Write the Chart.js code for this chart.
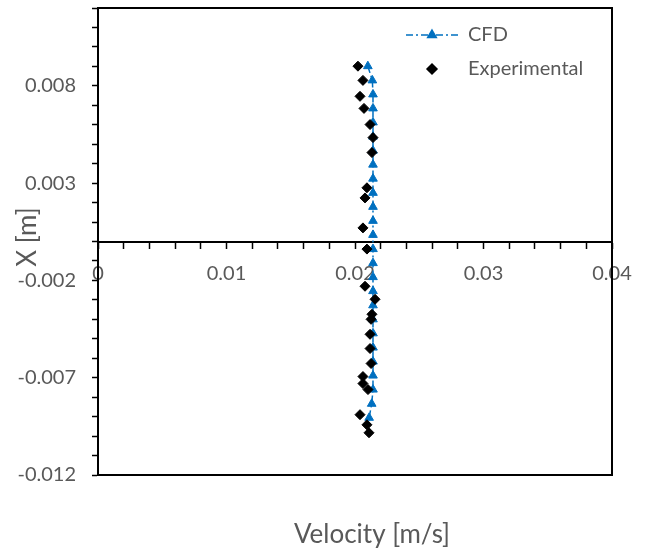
<!DOCTYPE html>
<html>
<head>
<meta charset="utf-8">
<script src="https://cdn.jsdelivr.net/npm/chart.js@4/dist/chart.umd.min.js"></script>
<style>
  html, body { margin: 0; padding: 0; background: #fff; }
  #wrap { width: 652px; height: 551px; }
</style>
</head>
<body>
<div id="wrap"><canvas id="chart"></canvas></div>
<script>
// ---------- Data ----------
// CFD profile: velocity [m/s] vs position X [m]
const cfdVelocity = [0.0210, 0.02135, 0.0214, 0.0214, 0.0214, 0.0214, 0.0214, 0.0214, 0.0214,
                     0.0214, 0.0214, 0.0214, 0.0214, 0.0214, 0.0214, 0.0214, 0.0214, 0.0214,
                     0.0214, 0.0214, 0.0214, 0.0214, 0.0214, 0.0214, 0.0213, 0.0211];
const cfdX = [0.00901, 0.00828, 0.00756, 0.00684, 0.00612, 0.00539, 0.00467, 0.00395, 0.00323,
              0.00250, 0.00178, 0.00106, 0.00034, -0.00039, -0.00111, -0.00183, -0.00255, -0.00328,
              -0.00400, -0.00472, -0.00545, -0.00617, -0.00689, -0.00761, -0.00834, -0.00906];

// Experimental points
const expVelocity = [0.02023, 0.02062, 0.02039, 0.02070, 0.02117, 0.02140, 0.02132, 0.02093,
                     0.02078, 0.02062, 0.02093, 0.02078, 0.02156, 0.02132, 0.02125, 0.02117,
                     0.02117, 0.02125, 0.02062, 0.02062, 0.02101, 0.02039, 0.02093, 0.02109];
const expX = [0.00901, 0.00828, 0.00746, 0.00684, 0.00601, 0.00534, 0.00457, 0.00276,
              0.00224, 0.00070, -0.00039, -0.00230, -0.00297, -0.00374, -0.00400, -0.00477,
              -0.00550, -0.00627, -0.00694, -0.00730, -0.00761, -0.00890, -0.00942, -0.00983];

// Axis ranges (major / minor steps)
const xRange = { min: 0, max: 0.04, major: 0.01, minor: 0.002 };
const yRange = { min: -0.012, max: 0.012, major: 0.005, minor: 0.001 };

const seriesNames = ['CFD', 'Experimental'];
const axisTitles = { x: 'Velocity [m/s]', y: 'X [m]' };

// ---------- Helpers ----------
const FONT = 'Lato';
const GREY = '#595959';
const BLUE = '#0070C0';
const toPoints = (xs, ys) => xs.map((v, i) => ({ x: v, y: ys[i] }));

// ---------- Plugins: frame, axis titles, in-plot legend ----------
const framePlugin = {
  id: 'frame',
  afterDatasetsDraw(chart) {
    const { ctx, chartArea: a } = chart;
    ctx.save();
    ctx.strokeStyle = '#000';
    ctx.lineWidth = 2;
    ctx.strokeRect(a.left, a.top, a.right - a.left, a.bottom - a.top);
    ctx.restore();
  },
};

const titlesPlugin = {
  id: 'titles',
  afterDraw(chart) {
    const { ctx } = chart;
    ctx.save();
    ctx.fillStyle = GREY;
    ctx.font = `26px ${FONT}`;
    ctx.textAlign = 'center';
    ctx.textBaseline = 'middle';
    ctx.fillText(axisTitles.x, 372, 535);
    ctx.translate(28, 237);
    ctx.rotate(-Math.PI / 2);
    ctx.fillText(axisTitles.y, 0, 0);
    ctx.restore();
  },
};

const legendPlugin = {
  id: 'insideLegend',
  afterDraw(chart) {
    const { ctx, chartArea: a } = chart;
    const x0 = a.right - 206, x1 = a.right - 154, mx = (x0 + x1) / 2;
    const tx = a.right - 144;
    const rows = [a.top + 27, a.top + 61];
    const sets = chart.data.datasets;
    ctx.save();
    // CFD: dash-dot line with triangle
    ctx.strokeStyle = BLUE;
    ctx.lineWidth = 1.5;
    ctx.setLineDash(sets[0].borderDash);
    ctx.beginPath();
    ctx.moveTo(x0, rows[0]);
    ctx.lineTo(x1, rows[0]);
    ctx.stroke();
    ctx.setLineDash([]);
    ctx.fillStyle = BLUE;
    Chart.helpers.drawPoint(ctx, { pointStyle: 'triangle', radius: 5, borderWidth: 1, rotation: 0 }, mx, rows[0]);
    // Experimental: diamond only
    ctx.fillStyle = '#000';
    ctx.strokeStyle = '#000';
    Chart.helpers.drawPoint(ctx, { pointStyle: 'rectRot', radius: 5, borderWidth: 1, rotation: 0 }, mx, rows[1]);
    ctx.fillStyle = GREY;
    ctx.font = `20px ${FONT}`;
    ctx.textAlign = 'left';
    ctx.textBaseline = 'middle';
    ctx.fillText(sets[0].label, tx, rows[0]);
    ctx.fillText(sets[1].label, tx, rows[1]);
    ctx.restore();
  },
};

// ---------- Chart ----------
function isMajor(v, range) {
  const n = Math.round((v - range.min) / range.minor);
  const per = Math.round(range.major / range.minor);
  return n % per === 0;
}

function initChart() {
  const ctx = document.getElementById('chart').getContext('2d');
  new Chart(ctx, {
    type: 'scatter',
    data: {
      datasets: [
        {
          label: seriesNames[0],
          data: toPoints(cfdVelocity, cfdX),
          showLine: true,
          borderColor: BLUE,
          borderWidth: 1.5,
          borderDash: [7, 3, 2, 3],
          pointStyle: 'triangle',
          pointRadius: 5,
          pointBackgroundColor: BLUE,
          pointBorderColor: BLUE,
          pointBorderWidth: 1,
          order: 2,
        },
        {
          label: seriesNames[1],
          data: toPoints(expVelocity, expX),
          showLine: false,
          pointStyle: 'rectRot',
          pointRadius: 5,
          pointBackgroundColor: '#000',
          pointBorderColor: '#000',
          pointBorderWidth: 1,
          order: 1,
        },
      ],
    },
    options: {
      responsive: true, maintainAspectRatio: false, animation: false,
      layout: { padding: { top: 8, right: 40, bottom: 76, left: 0 } },
      plugins: { legend: { display: false }, tooltip: { enabled: false } },
      scales: {
        x: {
          type: 'linear',
          position: { y: 0 },
          min: xRange.min, max: xRange.max,
          grid: { drawOnChartArea: false, drawTicks: true, tickLength: 6, tickColor: '#000', tickWidth: 1.5 },
          border: { display: true, color: '#000', width: 2 },
          ticks: {
            stepSize: xRange.minor, autoSkip: false, maxRotation: 0, padding: 14,
            color: GREY, font: { family: FONT, size: 20 },
            callback: (v) => {
              if (!isMajor(v, xRange)) return '';
              const n = Math.round(v * 1000);
              return n === 0 ? '0' : String(n / 1000);
            },
          },
        },
        y: {
          type: 'linear',
          position: 'left',
          min: yRange.min, max: yRange.max,
          afterFit: (scale) => { scale.width = 98; scale.paddingTop = 0; scale.paddingBottom = 0; },
          grid: { drawOnChartArea: false, drawTicks: true, tickLength: 6, tickColor: '#000', tickWidth: 1.5 },
          border: { display: true, color: '#000', width: 2 },
          ticks: {
            stepSize: yRange.minor, autoSkip: false, padding: 16,
            color: GREY, font: { family: FONT, size: 20 },
            callback: (v) => (isMajor(v, yRange) ? (Math.round(v * 1000) / 1000).toFixed(3) : ''),
          },
        },
      },
    },
    plugins: [framePlugin, titlesPlugin, legendPlugin],
  });
}

document.addEventListener('DOMContentLoaded', initChart);
</script>
</body>
</html>
